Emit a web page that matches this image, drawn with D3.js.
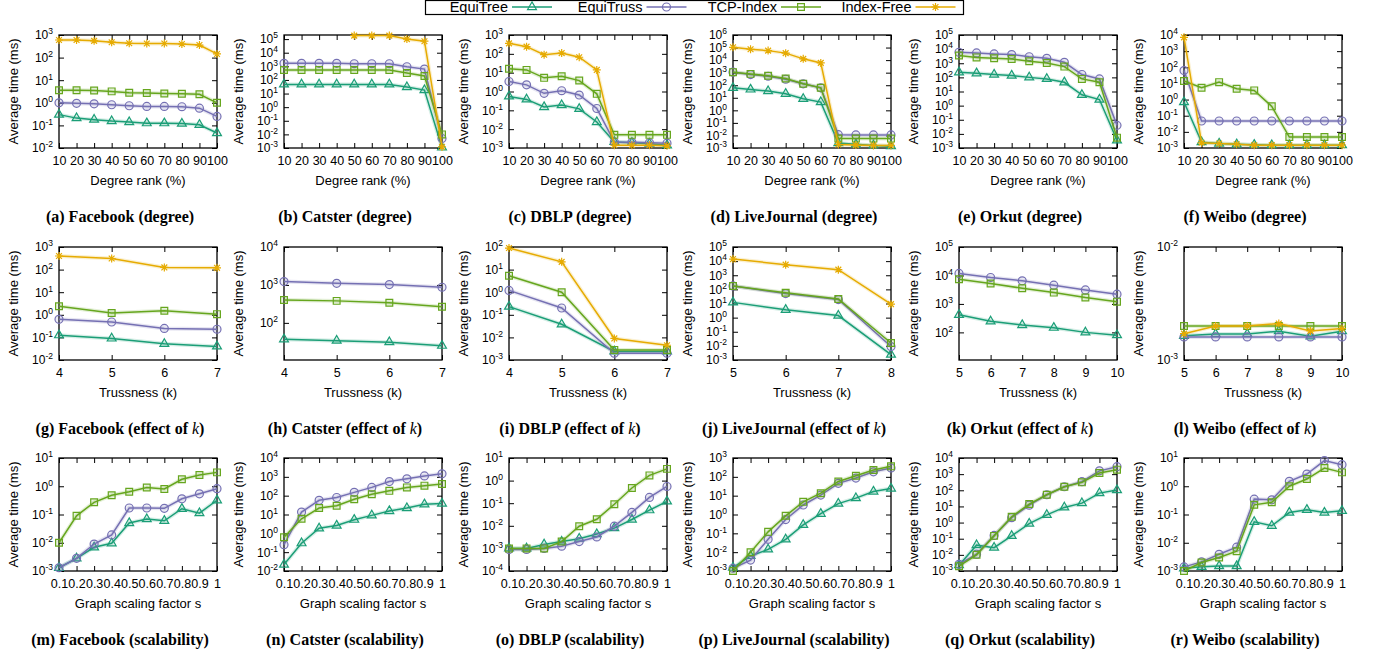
<!DOCTYPE html>
<html>
<head>
<meta charset="utf-8">
<script src="https://cdn.jsdelivr.net/npm/d3@7"></script>
<style>
  body { margin: 0; background: #fff; }
  svg { display: block; }
</style>
</head>
<body>
<svg id="chart" width="1374" height="655"></svg>
<script>
// series, in legend order
const seriesNames = ["EquiTree", "EquiTruss", "TCP-Index", "Index-Free"];
const seriesColors = ["#1b9e77", "#7570b3", "#66a61e", "#e6ab02"];
const seriesMarks = ["triangle", "circle", "square", "star"];

// x values
const degreeRank = [10, 20, 30, 40, 50, 60, 70, 80, 90, 100];
const kFourSeven = [4, 5, 6, 7];
const kFiveEight = [5, 6, 7, 8];
const kFiveTen = [5, 6, 7, 8, 9, 10];
const scaleS = [0.1, 0.2, 0.3, 0.4, 0.5, 0.6, 0.7, 0.8, 0.9, 1];

// rows: EquiTree, EquiTruss, TCP-Index, Index-Free (null = not plotted)
const facebookDegree = [
  [0.3, 0.21, 0.18, 0.155, 0.14, 0.125, 0.125, 0.12, 0.107, 0.046],
  [1.0, 0.95, 0.9, 0.82, 0.74, 0.69, 0.69, 0.67, 0.58, 0.25],
  [3.6, 3.6, 3.5, 3.2, 2.8, 2.7, 2.6, 2.5, 2.4, 1.0],
  [600, 600, 550, 480, 430, 420, 420, 400, 360, 145]
];
const catsterDegree = [
  [47, 47, 47, 47, 47, 47, 47, 30, 18, 0.0011],
  [1650, 1650, 1650, 1650, 1550, 1550, 1550, 930, 630, 0.005],
  [540, 540, 540, 540, 540, 540, 540, 320, 195, 0.01],
  [null, null, null, null, 1.8e5, 1.8e5, 1.8e5, 1e5, 7e4, 0.0012]
];
const dblpDegree = [
  [0.55, 0.38, 0.15, 0.19, 0.12, 0.024, 0.0021, 0.0019, 0.0017, 0.0014],
  [3.4, 2.25, 0.8, 1.1, 0.65, 0.125, 0.0021, 0.002, 0.0019, 0.0018],
  [16, 14, 5.3, 6.5, 3.8, 0.75, 0.005, 0.005, 0.005, 0.005],
  [360, 240, 90, 110, 66, 14, 0.0014, 0.0014, 0.0014, 0.0013]
];
const liveJournalDegree = [
  [62, 46, 34, 21, 8.3, 4.5, 0.0025, 0.002, 0.0016, 0.0014],
  [1100, 700, 520, 300, 130, 62, 0.0115, 0.011, 0.011, 0.011],
  [1100, 800, 560, 340, 130, 62, 0.0056, 0.0056, 0.0056, 0.0056],
  [1.05e5, 7.3e4, 5.7e4, 3.6e4, 1.26e4, 6000, 0.0019, 0.0017, 0.0016, 0.0016]
];
const orkutDegree = [
  [230, 195, 160, 135, 100, 78, 45, 5.8, 2.7, 0.0035],
  [6000, 5400, 4600, 4100, 2900, 2250, 1170, 160, 78, 0.04],
  [3500, 2600, 2250, 2000, 1370, 1050, 580, 78, 45, 0.0054],
  []
];
const weiboDegree = [
  [0.7, 0.0023, 0.0019, 0.0017, 0.0016, 0.0015, 0.0015, 0.0015, 0.0015, 0.0015],
  [63, 0.047, 0.047, 0.047, 0.047, 0.047, 0.047, 0.047, 0.047, 0.047],
  [14, 5.4, 12, 4.7, 3.7, 0.38, 0.0048, 0.0048, 0.0048, 0.0048],
  [7200, 0.0021, 0.0019, 0.0017, 0.0015, 0.0015, 0.0015, 0.0015, 0.0015, 0.0015]
];

const facebookK = [
  [0.125, 0.09, 0.052, 0.04],
  [0.63, 0.48, 0.25, 0.23],
  [2.4, 1.2, 1.5, 1.07],
  [400, 310, 125, 120]
];
const catsterK = [
  [37, 34, 31, 25],
  [1230, 1100, 1020, 870],
  [400, 380, 340, 265],
  []
];
const dblpK = [
  [0.23, 0.038, 0.0024, 0.0024],
  [1.2, 0.2, 0.002, 0.002],
  [5.3, 1.0, 0.0028, 0.0028],
  [90, 22, 0.009, 0.0045]
];
const liveJournalK = [
  [12, 3.6, 1.4, 0.0024],
  [175, 50, 19, 0.009],
  [175, 57, 21, 0.016],
  [1.4e4, 5600, 2500, 9]
];
const orkutK = [
  [415, 245, 182, 146, 100, 80],
  [11800, 8500, 6500, 4550, 3100, 2200],
  [7400, 5200, 3550, 2500, 1670, 1200],
  []
];
const weiboK = [
  [0.00164, 0.0017, 0.0017, 0.0018, 0.00162, 0.0018],
  [0.0016, 0.0016, 0.0016, 0.0016, 0.0016, 0.0016],
  [0.002, 0.002, 0.002, 0.002, 0.002, 0.002],
  [0.00171, 0.002, 0.002, 0.0021, 0.00181, 0.0019]
];

const facebookScale = [
  [0.0013, 0.0028, 0.0069, 0.0096, 0.05, 0.069, 0.06, 0.16, 0.112, 0.32],
  [0.0013, 0.0028, 0.009, 0.019, 0.17, 0.17, 0.165, 0.36, 0.54, 0.82],
  [0.01, 0.09, 0.27, 0.48, 0.64, 0.9, 0.8, 1.77, 2.5, 3.1],
  []
];
const catsterScale = [
  [0.022, 0.3, 1.85, 2.6, 5.3, 9, 15.4, 22, 35, 38],
  [0.25, 13.5, 57, 80, 150, 275, 560, 780, 1120, 1450],
  [0.62, 5.9, 22, 29, 65, 120, 180, 275, 340, 415],
  []
];
const dblpScale = [
  [0.001, 0.001, 0.0015, 0.002, 0.0027, 0.0043, 0.0079, 0.019, 0.049, 0.12],
  [0.0009, 0.0009, 0.001, 0.00125, 0.002, 0.0032, 0.0096, 0.039, 0.18, 0.55],
  [0.00098, 0.001, 0.001, 0.002, 0.0096, 0.0195, 0.09, 0.47, 1.7, 3.3],
  []
];
const liveJournalScale = [
  [0.0015, 0.0063, 0.014, 0.048, 0.28, 1.1, 3.8, 7.4, 16.7, 24],
  [0.0014, 0.0038, 0.048, 0.54, 3.2, 10.7, 45, 86, 185, 295],
  [0.001, 0.01, 0.12, 0.85, 4.7, 13.5, 57, 114, 230, 360],
  []
];
const orkutScale = [
  [0.0023, 0.04, 0.028, 0.15, 0.87, 3.0, 8.7, 16, 67, 103],
  [0.0026, 0.011, 0.16, 2.0, 12, 53, 165, 340, 1600, 2900],
  [0.002, 0.01, 0.15, 2.3, 14, 53, 165, 310, 1170, 1900],
  []
];
const weiboScale = [
  [0.00125, 0.0014, 0.0015, 0.0015, 0.055, 0.04, 0.117, 0.147, 0.117, 0.135],
  [0.0014, 0.0021, 0.0039, 0.007, 0.35, 0.33, 1.5, 2.7, 8.1, 5.8],
  [0.001, 0.002, 0.003, 0.005, 0.22, 0.27, 1.0, 1.8, 4.4, 3.1],
  []
];

const degreeLabel = "Degree rank (%)";
const kLabel = "Trussness (k)";
const scaleLabel = "Graph scaling factor s";

// panel list, row by row
const panels = [
  { cap: ["(a) Facebook (degree)"], xs: degreeRank, xl: degreeLabel, yd: [1e-2, 1e3], data: facebookDegree },
  { cap: ["(b) Catster (degree)"], xs: degreeRank, xl: degreeLabel, yd: [1e-3, 2e5], data: catsterDegree },
  { cap: ["(c) DBLP (degree)"], xs: degreeRank, xl: degreeLabel, yd: [1e-3, 1e3], data: dblpDegree },
  { cap: ["(d) LiveJournal (degree)"], xs: degreeRank, xl: degreeLabel, yd: [1e-3, 1e6], data: liveJournalDegree },
  { cap: ["(e) Orkut (degree)"], xs: degreeRank, xl: degreeLabel, yd: [1e-3, 1e5], data: orkutDegree },
  { cap: ["(f) Weibo (degree)"], xs: degreeRank, xl: degreeLabel, yd: [1e-3, 1e4], data: weiboDegree },
  { cap: ["(g) Facebook (effect of ", "k", ")"], xs: kFourSeven, xl: kLabel, yd: [1e-2, 1e3], data: facebookK },
  { cap: ["(h) Catster (effect of ", "k", ")"], xs: kFourSeven, xl: kLabel, yd: [10.5, 1e4], data: catsterK },
  { cap: ["(i) DBLP (effect of ", "k", ")"], xs: kFourSeven, xl: kLabel, yd: [1e-3, 1e2], data: dblpK },
  { cap: ["(j) LiveJournal (effect of ", "k", ")"], xs: kFiveEight, xl: kLabel, yd: [1e-3, 1e5], data: liveJournalK },
  { cap: ["(k) Orkut (effect of ", "k", ")"], xs: kFiveTen, xl: kLabel, yd: [10.7, 1e5], data: orkutK },
  { cap: ["(l) Weibo (effect of ", "k", ")"], xs: kFiveTen, xl: kLabel, yd: [1e-3, 1e-2], data: weiboK },
  { cap: ["(m) Facebook (scalability)"], xs: scaleS, xl: scaleLabel, yd: [1e-3, 1e1], data: facebookScale },
  { cap: ["(n) Catster (scalability)"], xs: scaleS, xl: scaleLabel, yd: [1e-2, 1e4], data: catsterScale },
  { cap: ["(o) DBLP (scalability)"], xs: scaleS, xl: scaleLabel, yd: [1e-4, 1e1], data: dblpScale },
  { cap: ["(p) LiveJournal (scalability)"], xs: scaleS, xl: scaleLabel, yd: [1e-3, 1e3], data: liveJournalScale },
  { cap: ["(q) Orkut (scalability)"], xs: scaleS, xl: scaleLabel, yd: [1e-3, 1e4], data: orkutScale },
  { cap: ["(r) Weibo (scalability)"], xs: scaleS, xl: scaleLabel, yd: [1e-3, 1e1], data: weiboScale }
];

// layout
const lefts = [59, 284, 509, 733, 959, 1184];
const tops = [35, 247, 458];
const plotW = 158;
const plotH = 113;
const sansFont = "'Liberation Sans', Arial, sans-serif";
const serifFont = "'Liberation Serif', 'Times New Roman', serif";

const svg = d3.select("#chart");

// marker shapes
function markPath(kind) {
  if (kind === "triangle") return d3.symbol(d3.symbolTriangle, 34)();
  if (kind === "circle") return d3.symbol(d3.symbolCircle, 50)();
  if (kind === "square") return d3.symbol(d3.symbolSquare, 46)();
  const r = 4, q = 2.9;
  return `M${-r},0H${r}M0,${-r}V${r}M${-q},${-q}L${q},${q}M${-q},${q}L${q},${-q}`;
}

panels.forEach((p, i) => {
  const row = Math.floor(i / 6), col = i % 6;
  const g = svg.append("g")
    .attr("transform", `translate(${lefts[col]},${tops[row]})`);

  const x = d3.scaleLinear()
    .domain([p.xs[0], p.xs[p.xs.length - 1]])
    .range([0, plotW]);
  const y = d3.scaleLog()
    .domain(p.yd)
    .range([plotH, 0]);

  // decade ticks inside the range
  const lo = Math.ceil(Math.log10(p.yd[0]) - 1e-9);
  const hi = Math.floor(Math.log10(p.yd[1]) + 1e-9);
  const yTicks = d3.range(lo, hi + 1).map(e => Math.pow(10, e));

  // x axes (bottom with labels, top mirror ticks)
  const xb = g.append("g")
    .attr("transform", `translate(0,${plotH})`)
    .call(d3.axisBottom(x).tickValues(p.xs).tickFormat(d => String(d))
      .tickSize(-5).tickPadding(8));
  g.append("g")
    .call(d3.axisTop(x).tickValues(p.xs).tickFormat("").tickSize(-5));

  // y axes (left with labels, right mirror ticks)
  const yl = g.append("g")
    .call(d3.axisLeft(y).tickValues(yTicks).tickSize(-5).tickPadding(6));
  g.append("g")
    .attr("transform", `translate(${plotW},0)`)
    .call(d3.axisRight(y).tickValues(yTicks).tickFormat("").tickSize(-5));

  g.selectAll(".domain").remove();
  g.selectAll(".tick line").attr("stroke", "#000").attr("stroke-width", 1);
  xb.selectAll("text")
    .attr("font-family", sansFont).attr("font-size", 12.5).attr("fill", "#000");

  yl.selectAll(".tick text").each(function(d) {
    const e = Math.round(Math.log10(d));
    const t = d3.select(this)
      .text(null)
      .attr("font-family", sansFont)
      .attr("font-size", 12)
      .attr("fill", "#000");
    t.append("tspan").text("10");
    t.append("tspan").attr("dy", -5).attr("font-size", 8.5).text(e);
  });

  // frame
  g.append("rect")
    .attr("width", plotW).attr("height", plotH)
    .attr("fill", "none").attr("stroke", "#000").attr("stroke-width", 1.3);

  // series
  const line = d3.line()
    .defined(d => d[1] != null)
    .x(d => x(d[0]))
    .y(d => y(d[1]));

  p.data.forEach((vals, s) => {
    if (!vals.length) return;
    const pts = p.xs.map((xv, j) => [xv, vals[j]]);
    // soft halo under each line, as in the printed figure
    g.append("path")
      .datum(pts)
      .attr("d", line)
      .attr("fill", "none")
      .attr("stroke", seriesColors[s])
      .attr("stroke-opacity", 0.18)
      .attr("stroke-width", 4);
    g.append("path")
      .datum(pts)
      .attr("d", line)
      .attr("fill", "none")
      .attr("stroke", seriesColors[s])
      .attr("stroke-width", 1.5);
    g.selectAll(null)
      .data(pts.filter(d => d[1] != null))
      .join("path")
      .attr("transform", d => `translate(${x(d[0])},${y(d[1])})`)
      .attr("d", markPath(seriesMarks[s]))
      .attr("fill", seriesColors[s])
      .attr("fill-opacity", 0.12)
      .attr("stroke", seriesColors[s])
      .attr("stroke-width", 1.2);
  });

  // axis titles
  g.append("text")
    .attr("transform", `translate(-46,${plotH / 2}) rotate(-90)`)
    .attr("text-anchor", "middle")
    .attr("dominant-baseline", "central")
    .attr("font-family", sansFont)
    .attr("font-size", 13)
    .text("Average time (ms)");
  g.append("text")
    .attr("x", plotW / 2)
    .attr("y", plotH + 37)
    .attr("text-anchor", "middle")
    .attr("font-family", sansFont)
    .attr("font-size", 13)
    .text(p.xl);

  // caption
  const cap = g.append("text")
    .attr("x", plotW / 2 - 18)
    .attr("y", plotH + 74)
    .attr("text-anchor", "middle")
    .attr("font-family", serifFont)
    .attr("font-size", 16)
    .attr("font-weight", "bold");
  cap.append("tspan").text(p.cap[0]);
  if (p.cap.length > 1) {
    cap.append("tspan").attr("font-style", "italic").attr("font-weight", "normal").text(" " + p.cap[1]);
    cap.append("tspan").text(p.cap[2]);
  }
});

// legend
const legend = svg.append("g");
legend.append("rect")
  .attr("x", 425.5).attr("y", 0.5)
  .attr("width", 538).attr("height", 14)
  .attr("fill", "#fff").attr("stroke", "#000").attr("stroke-width", 1.2);

seriesNames.forEach((name, s) => {
  const tx = 508 + s * 134.5;
  legend.append("text")
    .attr("x", tx).attr("y", 12)
    .attr("text-anchor", "end")
    .attr("font-family", sansFont)
    .attr("font-size", 14.5)
    .text(name);
  legend.append("line")
    .attr("x1", tx + 4).attr("x2", tx + 44)
    .attr("y1", 7).attr("y2", 7)
    .attr("stroke", seriesColors[s]).attr("stroke-width", 1.5);
  legend.append("path")
    .attr("transform", `translate(${tx + 24},7)`)
    .attr("d", markPath(seriesMarks[s]))
    .attr("fill", "none")
    .attr("stroke", seriesColors[s])
    .attr("stroke-width", 1.2);
});
</script>
</body>
</html>
